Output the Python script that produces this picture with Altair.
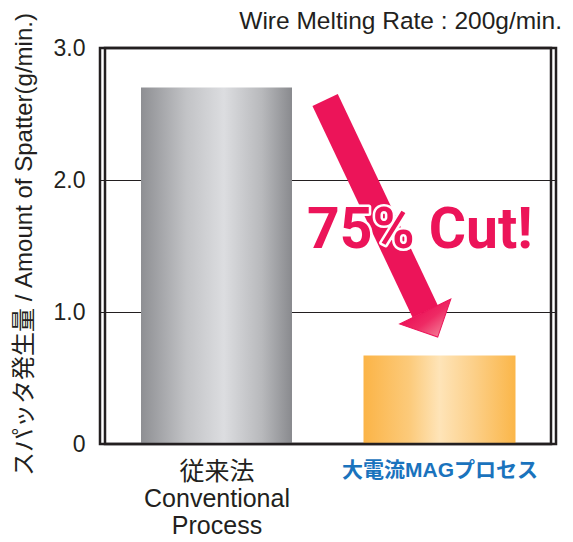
import json
import altair as alt
import pandas as pd

# ---- data ----
categories = ["従来法\nConventional\nProcess", "大電流MAGプロセス"]
spatter = [2.70, 0.67]

# annotation arrow (x in category units: 1 = first bar, 2 = second bar)
arrow_x = [1.487, 1.936]
arrow_y = [2.606, 1.004]
head_x = [1.964]
head_y = [0.907]
note_x = [1.912]
note_y = [1.485]
note_text = ["75% Cut!"]

x_extent = [0.5, 2.5]
y_extent = [0.0, 3.0]

PINK = "#ec1459"
DARK = "#231f20"
BLUE = "#1a73bd"
LATIN_JP = "Liberation Sans, Noto Sans CJK JP"

positions = list(range(1, len(categories) + 1))
bars_df = pd.DataFrame({"process": categories, "pos": positions, "spatter": spatter})
arrow_df = pd.DataFrame({"pos": arrow_x, "spatter": arrow_y})
head_df = pd.DataFrame({"pos": head_x, "spatter": head_y})
note_df = pd.DataFrame({"pos": note_x, "spatter": note_y, "t": note_text})
frame_df = pd.DataFrame({
    "pos": [x_extent[0], x_extent[0], x_extent[1], x_extent[1], x_extent[0]],
    "spatter": [y_extent[0], y_extent[1], y_extent[1], y_extent[0], y_extent[0]],
    "k": [0, 1, 2, 3, 4],
})

# category labels on the position axis (multi-line for the first one)
label_expr = "''"
for p, c in reversed(list(zip(positions, categories))):
    label_expr = f"datum.value == {p} ? split({json.dumps(c, ensure_ascii=False)}, '\\n') : {label_expr}"
is_mag = f"datum.value == {positions[1]}"

x_enc = alt.X(
    "pos:Q",
    scale=alt.Scale(domain=x_extent, nice=False, zero=False),
    axis=alt.Axis(
        title=None,
        values=positions,
        labelAngle=0,
        labelExpr=label_expr,
        labelFont=LATIN_JP,
        labelFontSize={"condition": {"test": is_mag, "value": 21}, "value": 25},
        labelFontWeight={"condition": {"test": is_mag, "value": "bold"}, "value": "normal"},
        labelColor={"condition": {"test": is_mag, "value": BLUE}, "value": DARK},
        labelLineHeight=27,
        labelBaseline="top",
        labelAlign="center",
        labelPadding=15,
        labelLimit=300,
        labelFlush=False,
        labelOverlap=False,
        ticks=False,
        domain=False,
        grid=False,
    ),
)

y_enc = alt.Y(
    "spatter:Q",
    scale=alt.Scale(domain=y_extent, nice=False),
    axis=alt.Axis(
        title="スパッタ発生量 / Amount of Spatter(g/min.)",
        values=[0, 1, 2, 3],
        labelExpr="datum.value == 0 ? '0' : format(datum.value, '.1f')",
        labelFont=LATIN_JP,
        labelFontSize=23,
        labelColor=DARK,
        labelPadding=15,
        ticks=False,
        domain=False,
        grid=True,
        gridColor=DARK,
        gridWidth=1,
        titleFont=LATIN_JP,
        titleFontSize=24,
        titleFontWeight="normal",
        titleColor=DARK,
        titleAngle=270,
        titleBaseline="bottom",
        titleAlign="center",
        titleX=-64,
        titleY=196,
    ),
)

gray_grad = alt.Gradient(
    gradient="linear",
    stops=[
        alt.GradientStop(offset=0, color="#8e8f93"),
        alt.GradientStop(offset=0.3, color="#c2c3c6"),
        alt.GradientStop(offset=0.55, color="#dcdde0"),
        alt.GradientStop(offset=0.8, color="#b8b9bc"),
        alt.GradientStop(offset=1, color="#898a8e"),
    ],
    x1=0, x2=1, y1=0, y2=0,
)
orange_grad = alt.Gradient(
    gradient="linear",
    stops=[
        alt.GradientStop(offset=0, color="#fbb447"),
        alt.GradientStop(offset=0.3, color="#fcca7a"),
        alt.GradientStop(offset=0.5, color="#fee4b8"),
        alt.GradientStop(offset=0.72, color="#fcd08a"),
        alt.GradientStop(offset=1, color="#fbb649"),
    ],
    x1=0, x2=1, y1=0, y2=0,
)

base = alt.Chart(bars_df).encode(x=x_enc, y=y_enc)
bar_gray = base.mark_bar(color=gray_grad, size=151).transform_filter(
    alt.FieldEqualPredicate(field="process", equal=categories[0])
)
bar_orange = base.mark_bar(color=orange_grad, size=152).transform_filter(
    alt.FieldEqualPredicate(field="process", equal=categories[1])
)

frame = alt.Chart(frame_df).mark_line(
    color=DARK, strokeWidth=2.5, strokeJoin="miter", strokeCap="square"
).encode(x="pos:Q", y="spatter:Q", order="k:O")

shaft = alt.Chart(arrow_df).mark_line(color=PINK, strokeWidth=28, strokeCap="butt").encode(
    x="pos:Q", y="spatter:Q"
)

head_grad = alt.Gradient(
    gradient="linear",
    stops=[
        alt.GradientStop(offset=0, color=PINK),
        alt.GradientStop(offset=0.45, color="#ee2a64"),
        alt.GradientStop(offset=1, color="#f37390"),
    ],
    x1=0, x2=0.4, y1=0, y2=1,
)
head = alt.Chart(head_df).mark_point(
    shape="M -1 -0.5 L 1 -0.5 L 0 0.5 Z",
    filled=True,
    fill=head_grad,
    fillOpacity=1,
    stroke=PINK,
    strokeWidth=1,
    size=3249,
    angle=334,
).encode(x="pos:Q", y="spatter:Q")

note_outline = alt.Chart(note_df).mark_text(
    font="Roboto", fontSize=57, fontWeight="bold", fill=PINK,
    stroke="white", strokeWidth=5, strokeJoin="round", align="center", baseline="alphabetic",
).encode(x="pos:Q", y="spatter:Q", text="t:N")
note = alt.Chart(note_df).mark_text(
    font="Roboto", fontSize=57, fontWeight="bold", fill=PINK,
    align="center", baseline="alphabetic",
).encode(x="pos:Q", y="spatter:Q", text="t:N")

chart = (
    alt.layer(bar_gray, bar_orange, frame, shaft, head, note_outline, note)
    .properties(
        width=456,
        height=396,
        autosize=alt.AutoSizeParams(type="none"),
        padding={"left": 92, "top": 40, "right": 9, "bottom": 94},
        title=alt.TitleParams(
            "Wire Melting Rate : 200g/min.",
            anchor="end",
            font=LATIN_JP,
            fontSize=24.5,
            fontWeight="normal",
            color=DARK,
            baseline="alphabetic",
            offset=0,
            dy=41,
            dx=6,
        ),
    )
    .configure(background="white", view=alt.ViewConfig(stroke=DARK, strokeWidth=2.5))
)

chart.save("out.html", embed_options={"renderer": "svg", "actions": False})
